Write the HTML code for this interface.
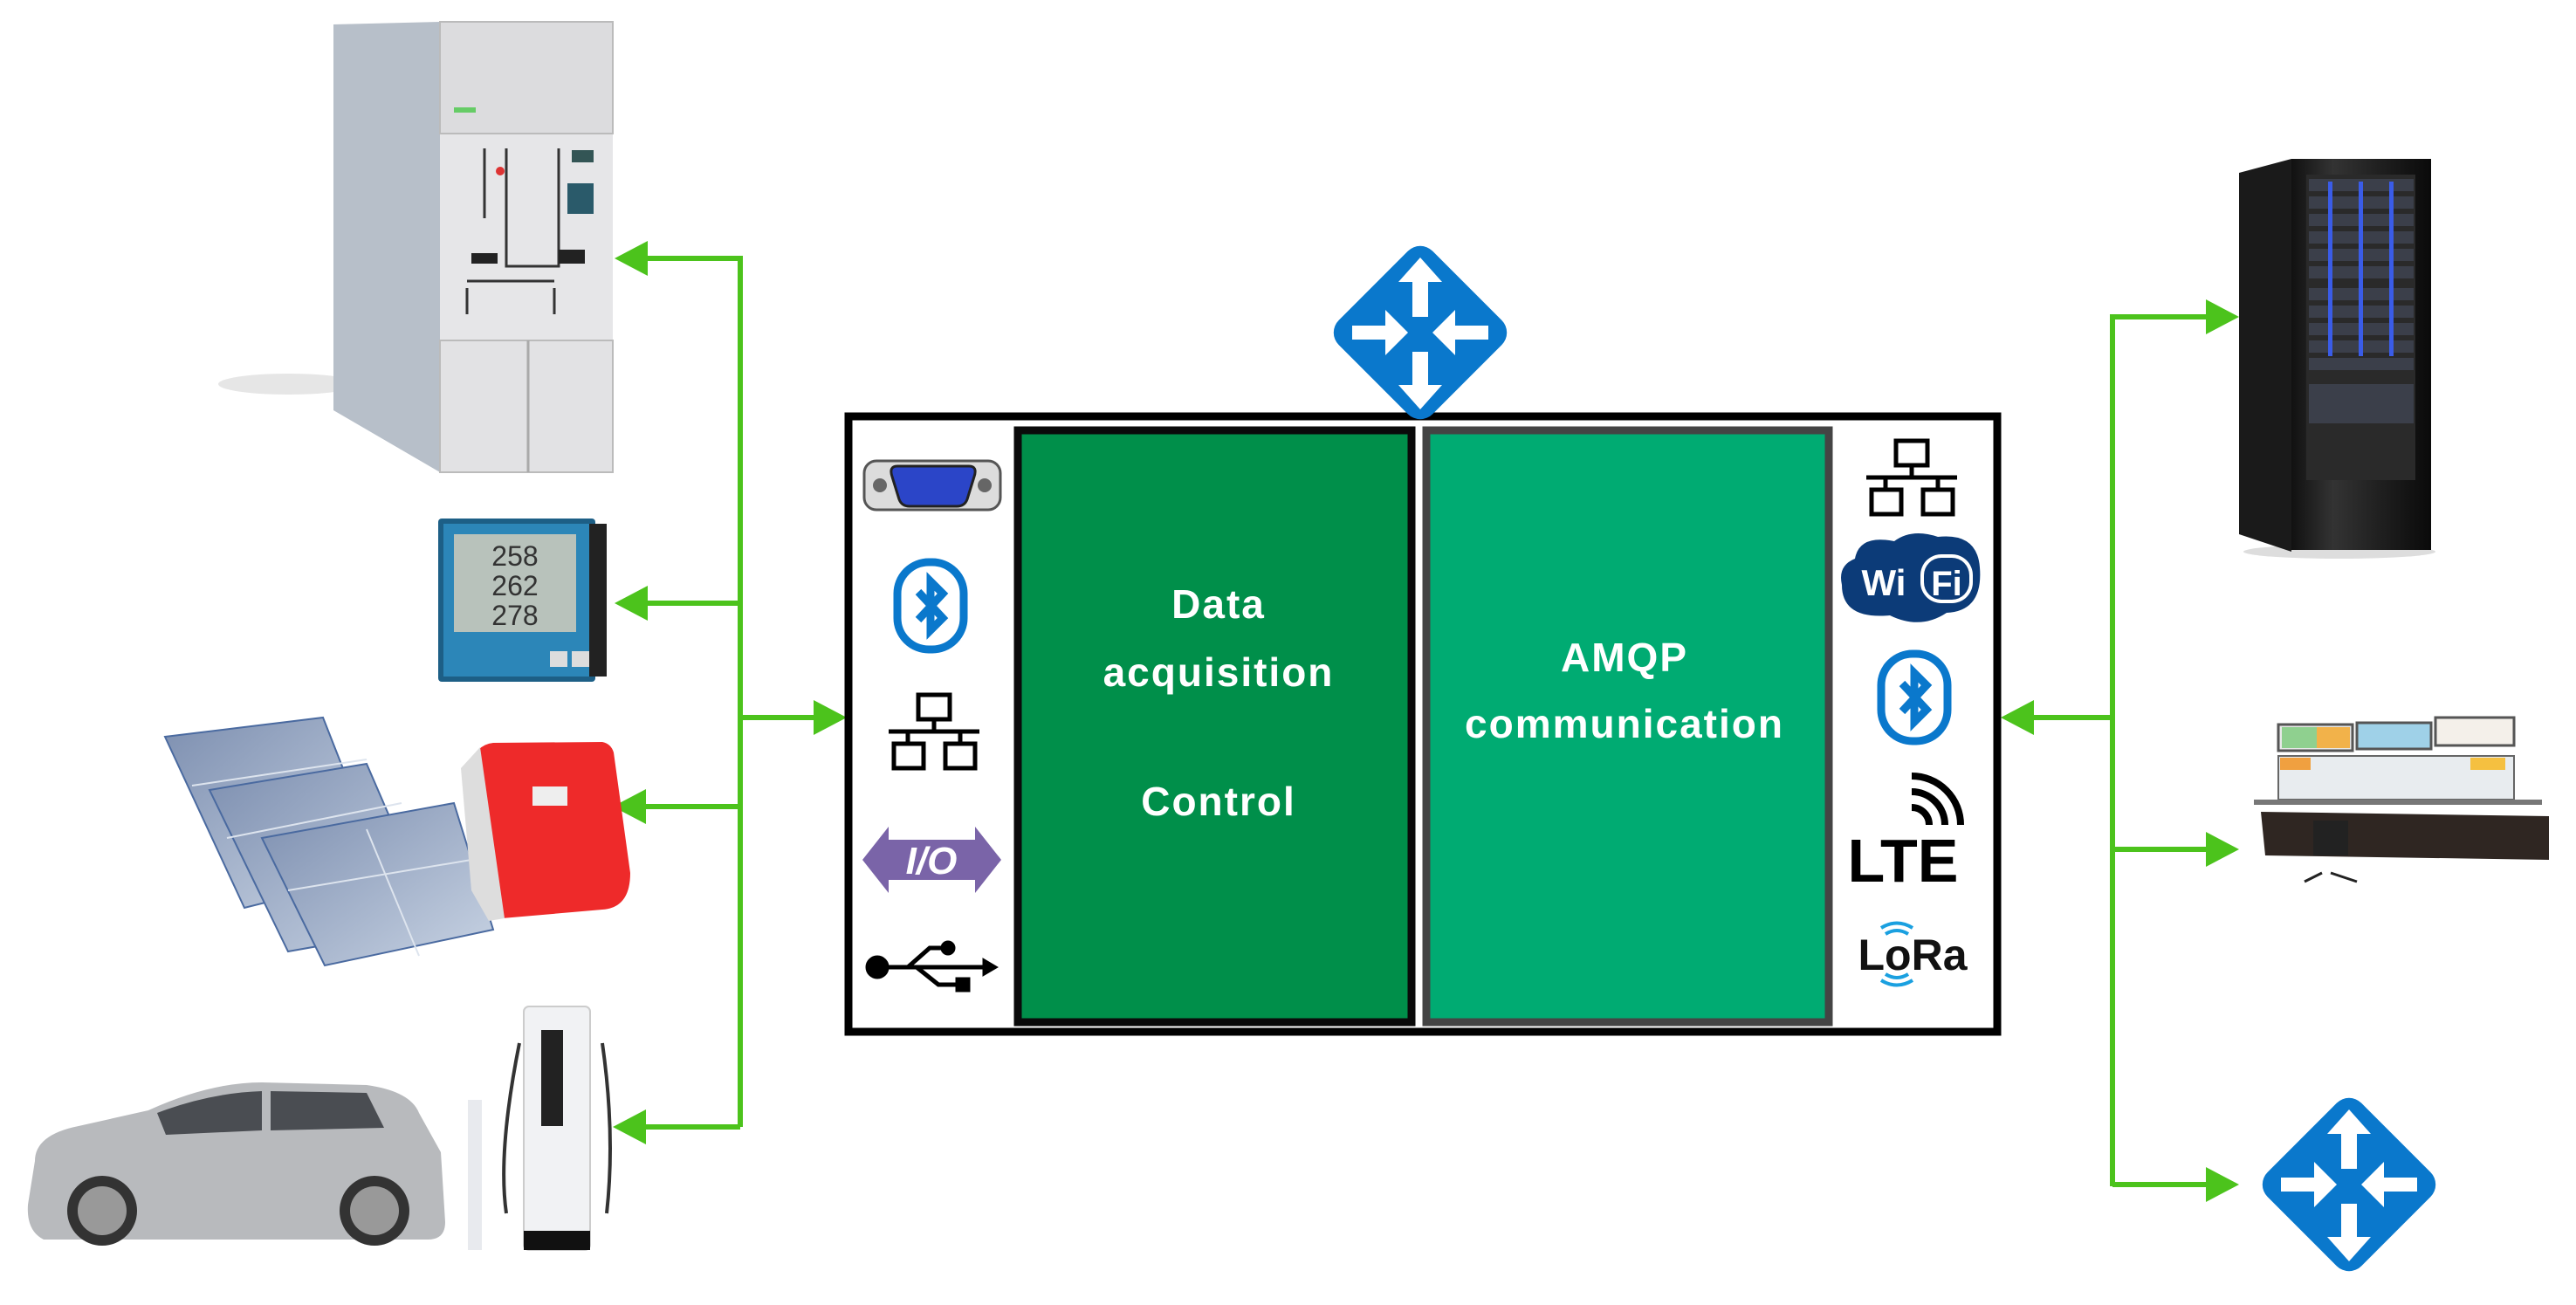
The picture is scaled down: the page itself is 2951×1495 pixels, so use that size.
<!DOCTYPE html>
<html><head><meta charset="utf-8"><style>
html,body{margin:0;padding:0;background:#fff;}
svg{display:block;}
text{font-family:"Liberation Sans",sans-serif;}
</style></head><body>
<svg width="2951" height="1495" viewBox="0 0 2951 1495" xmlns="http://www.w3.org/2000/svg">
<defs>
 <g id="router">
  <rect x="-76" y="-76" width="152" height="152" rx="20" fill="#0a78cc" transform="rotate(45)"/>
  <g fill="#fff">
   <polygon points="-9,-18 -9,-58 -25,-58 0,-86 25,-58 9,-58 9,-18"/>
   <polygon points="-9,22 -9,60 -25,60 0,88 25,60 9,60 9,22"/>
   <polygon points="-78,-8 -40,-8 -40,-26 -14,0 -40,26 -40,8 -78,8"/>
   <polygon points="78,-8 40,-8 40,-26 14,0 40,26 40,8 78,8"/>
  </g>
 </g>
 <g id="bt">
  <rect x="-38" y="-50" width="76" height="100" rx="36" fill="none" stroke="#0a78cc" stroke-width="9"/>
  <path d="M-14,-16 L14,14 L0,28 L0,-28 L14,-14 L-14,16" fill="none" stroke="#0a78cc" stroke-width="9" stroke-linejoin="miter"/>
 </g>
 <g id="net" fill="none" stroke="#000" stroke-width="5">
  <rect x="-18" y="-42" width="36" height="28"/>
  <path d="M0,-14 V0 M-52,0 H52 M-30,0 V14 M30,0 V14"/>
  <rect x="-46" y="14" width="34" height="28"/>
  <rect x="13" y="14" width="34" height="28"/>
 </g>
 <linearGradient id="rackg" x1="0" x2="1"><stop offset="0" stop-color="#111"/><stop offset=".3" stop-color="#333"/><stop offset="1" stop-color="#0a0a0a"/></linearGradient>
 <linearGradient id="solg" x1="0" x2="1" y1="0" y2="1"><stop offset="0" stop-color="#7d8fb0"/><stop offset="1" stop-color="#c9d4e4"/></linearGradient>
</defs>

<g stroke="#4cc31c" stroke-width="6" fill="none">
 <path d="M848,293 V1291"/>
 <path d="M848,296 H735 M848,691 H735 M848,924 H735 M848,1291 H735 M848,822 H935"/>
 <path d="M2420,360 V1359"/>
 <path d="M2420,363 H2530 M2420,973 H2530 M2420,1357 H2530 M2420,822 H2325"/>
</g>
<g fill="#4cc31c">
 <polygon points="704,296 742,276 742,316"/>
 <polygon points="704,691 742,671 742,711"/>
 <polygon points="702,924 740,904 740,944"/>
 <polygon points="702,1291 740,1271 740,1311"/>
 <polygon points="970,822 932,802 932,842"/>
 <polygon points="2292,822 2330,802 2330,842"/>
 <polygon points="2565,363 2527,343 2527,383"/>
 <polygon points="2565,973 2527,953 2527,993"/>
 <polygon points="2565,1357 2527,1337 2527,1377"/>
</g>

<!-- Switchgear -->
<ellipse cx="330" cy="440" rx="80" ry="12" fill="#e6e6e6"/>
<polygon points="382,28 504,25 504,541 382,470" fill="#b7bfc9"/>
<rect x="504" y="25" width="198" height="516" fill="#e6e6e8"/>
<rect x="504" y="25" width="198" height="128" fill="#dcdcde" stroke="#bbb" stroke-width="2"/>
<rect x="504" y="390" width="198" height="151" fill="#e2e2e4" stroke="#bbb" stroke-width="2"/>
<line x1="605" y1="390" x2="605" y2="541" stroke="#aaa" stroke-width="3"/>
<path d="M555,170 V250 M580,170 V305 H640 V170 M535,330 V360 M635,330 V360 M535,322 H635" stroke="#333" stroke-width="3" fill="none"/>
<rect x="650" y="210" width="30" height="35" fill="#2a5a6a"/>
<rect x="655" y="172" width="25" height="14" fill="#355"/>
<rect x="540" y="290" width="30" height="12" fill="#222"/>
<rect x="640" y="286" width="30" height="16" fill="#222"/>
<rect x="520" y="123" width="25" height="6" fill="#6c6"/>
<circle cx="573" cy="196" r="5" fill="#d33"/>

<!-- Meter -->
<rect x="502" y="594" width="180" height="187" rx="4" fill="#1d5f86"/>
<rect x="508" y="600" width="168" height="175" fill="#2c86b8"/>
<rect x="675" y="600" width="20" height="175" fill="#222"/>
<rect x="520" y="612" width="140" height="112" fill="#b8c2bb"/>
<text x="590" y="648" font-size="32" text-anchor="middle" fill="#333">258</text>
<text x="590" y="682" font-size="32" text-anchor="middle" fill="#333">262</text>
<text x="590" y="716" font-size="32" text-anchor="middle" fill="#333">278</text>
<rect x="630" y="746" width="20" height="18" fill="#ddd"/><rect x="655" y="746" width="20" height="18" fill="#ddd"/>

<!-- Solar -->
<polygon points="189,844 370,822 440,1000 280,1040" fill="url(#solg)" stroke="#4a6aa0" stroke-width="2"/>
<polygon points="240,905 420,875 500,1060 330,1090" fill="url(#solg)" stroke="#4a6aa0" stroke-width="2"/>
<polygon points="300,960 520,920 565,1065 372,1106" fill="url(#solg)" stroke="#4a6aa0" stroke-width="2"/>
<g stroke="#dde4ee" stroke-width="2">
 <line x1="220" y1="900" x2="420" y2="870"/><line x1="260" y1="960" x2="460" y2="920"/>
 <line x1="330" y1="1020" x2="540" y2="985"/><line x1="420" y1="950" x2="480" y2="1095"/>
</g>
<path d="M548,859 Q555,852 565,851 L690,850 Q700,852 703,862 L722,1000 Q722,1040 690,1042 L575,1052 Q555,1055 553,1030 Z" fill="#ee2a2a"/>
<path d="M528,880 L550,856 L578,1052 L560,1055 L540,1020 Z" fill="#ddd"/>
<rect x="610" y="901" width="40" height="22" fill="#eee"/>

<!-- Car -->
<path d="M40,1330 Q40,1300 90,1290 L170,1272 Q240,1240 300,1240 L420,1243 Q470,1250 480,1275 L505,1320 L510,1400 Q510,1420 490,1420 L50,1420 Q30,1410 32,1380 Z" fill="#b8babd"/>
<path d="M180,1275 Q240,1252 300,1250 L300,1295 L190,1300 Z M310,1250 L420,1252 L440,1292 L310,1295 Z" fill="#4a4d52"/>
<circle cx="117" cy="1387" r="40" fill="#333"/><circle cx="117" cy="1387" r="28" fill="#999"/>
<circle cx="429" cy="1387" r="40" fill="#333"/><circle cx="429" cy="1387" r="28" fill="#999"/>
<rect x="536" y="1260" width="16" height="172" fill="#e8eaee"/>
<rect x="600" y="1153" width="76" height="279" rx="6" fill="#f1f2f4" stroke="#ccc" stroke-width="2"/>
<rect x="620" y="1180" width="25" height="110" fill="#222"/>
<rect x="600" y="1410" width="76" height="22" fill="#111"/>
<path d="M595,1195 Q570,1320 580,1390 M690,1195 Q705,1300 695,1390" stroke="#333" stroke-width="4" fill="none"/>

<!-- Central box -->
<rect x="972" y="477" width="1316" height="705" fill="#fff" stroke="#000" stroke-width="9"/>
<rect x="1166" y="493" width="451" height="678" fill="#008f4a" stroke="#0a0a0a" stroke-width="9"/>
<rect x="1634" y="493" width="461" height="678" fill="#00ab72" stroke="#444" stroke-width="9"/>
<g fill="#fff" font-weight="bold" font-size="46" text-anchor="middle" letter-spacing="2">
 <text x="1396" y="708">Data</text>
 <text x="1396" y="786">acquisition</text>
 <text x="1396" y="934">Control</text>
 <text x="1861" y="769">AMQP</text>
 <text x="1861" y="845">communication</text>
</g>

<!-- left icons -->
<rect x="990" y="528" width="156" height="56" rx="14" fill="#dcdcdc" stroke="#555" stroke-width="3"/>
<circle cx="1008" cy="556" r="8" fill="#666"/><circle cx="1128" cy="556" r="8" fill="#666"/>
<path d="M1028,534 H1110 Q1120,534 1116,546 L1108,572 Q1105,580 1096,580 H1042 Q1033,580 1030,572 L1022,546 Q1018,534 1028,534 Z" fill="#2b45c8" stroke="#222" stroke-width="3"/>
<use href="#bt" x="1066" y="694"/>
<use href="#net" x="1070" y="838"/>
<polygon points="988,985 1018,947 1018,962 1117,962 1117,947 1147,985 1117,1023 1117,1008 1018,1008 1018,1023" fill="#7a64a8"/>
<text x="1067" y="1001" font-size="44" font-weight="bold" fill="#fff" text-anchor="middle" font-style="italic">I/O</text>
<g fill="#000" stroke="#000">
 <circle cx="1005" cy="1108" r="13"/>
 <path d="M1005,1108 H1130 M1040,1108 L1065,1086 H1082 M1050,1108 L1075,1128 H1098" stroke-width="5" fill="none"/>
 <circle cx="1086" cy="1086" r="8"/>
 <rect x="1095" y="1120" width="16" height="16"/>
 <polygon points="1143,1108 1126,1098 1126,1118"/>
</g>

<!-- right icons -->
<use href="#net" x="2190" y="547"/>
<path d="M2125,640 Q2130,612 2170,620 Q2190,605 2220,615 Q2265,610 2268,650 Q2272,700 2230,702 Q2200,722 2165,705 Q2110,710 2110,670 Q2105,648 2125,640 Z" fill="#0c3b78"/>
<rect x="2200" y="635" width="60" height="56" rx="24" fill="#fff"/>
<rect x="2204" y="639" width="52" height="48" rx="20" fill="#0c3b78"/>
<text x="2158" y="682" font-size="42" font-weight="bold" fill="#fff" text-anchor="middle">Wi</text>
<text x="2230" y="682" font-size="40" font-weight="bold" fill="#fff" text-anchor="middle">Fi</text>
<use href="#bt" x="2193" y="799"/>
<g fill="none" stroke="#000" stroke-width="8">
 <path d="M2190,925 A20,20 0 0 1 2210,945"/>
 <path d="M2190,907 A38,38 0 0 1 2228,945"/>
 <path d="M2190,889 A56,56 0 0 1 2246,945"/>
</g>
<text x="2180" y="1010" font-size="70" font-weight="bold" fill="#000" text-anchor="middle">LTE</text>
<text x="2191" y="1111" font-size="50" font-weight="bold" fill="#111" text-anchor="middle">LoRa</text>
<g fill="none" stroke="#1aa0e0" stroke-width="4">
 <path d="M2160,1070 Q2173,1062 2186,1070 M2155,1063 Q2173,1052 2191,1063"/>
 <path d="M2160,1116 Q2173,1124 2186,1116 M2155,1123 Q2173,1134 2191,1123"/>
</g>

<use href="#router" x="1627" y="381"/>

<!-- server rack -->
<ellipse cx="2680" cy="632" rx="110" ry="8" fill="#ddd"/>
<polygon points="2565,198 2625,182 2625,632 2565,612" fill="#1a1a1a"/>
<rect x="2625" y="182" width="160" height="448" fill="url(#rackg)"/>
<rect x="2642" y="200" width="125" height="350" fill="#2a2a2a"/>
<g fill="#3b3f4a">
 <rect x="2645" y="205" width="120" height="14"/><rect x="2645" y="225" width="120" height="14"/><rect x="2645" y="245" width="120" height="14"/>
 <rect x="2645" y="265" width="120" height="14"/><rect x="2645" y="285" width="120" height="14"/><rect x="2645" y="305" width="120" height="14"/>
 <rect x="2645" y="330" width="120" height="14"/><rect x="2645" y="350" width="120" height="14"/><rect x="2645" y="370" width="120" height="14"/>
 <rect x="2645" y="390" width="120" height="14"/><rect x="2645" y="410" width="120" height="14"/><rect x="2645" y="440" width="120" height="45"/>
</g>
<g fill="#3a5ce8">
 <rect x="2667" y="208" width="5" height="200"/><rect x="2702" y="208" width="5" height="200"/><rect x="2737" y="208" width="5" height="200"/>
</g>

<!-- control room -->
<g>
 <rect x="2610" y="830" width="85" height="30" fill="#e8e8e8" stroke="#555" stroke-width="3"/>
 <rect x="2700" y="828" width="85" height="30" fill="#9fd1e8" stroke="#555" stroke-width="3"/>
 <rect x="2790" y="822" width="90" height="32" fill="#f4f0ea" stroke="#555" stroke-width="3"/>
 <rect x="2614" y="833" width="40" height="24" fill="#8fd08f"/><rect x="2654" y="833" width="38" height="24" fill="#f2b24a"/>
 <rect x="2610" y="866" width="270" height="50" fill="#e8ecef" stroke="#666" stroke-width="2"/>
 <rect x="2612" y="868" width="35" height="14" fill="#f0a040"/><rect x="2830" y="868" width="40" height="14" fill="#f5c040"/>
 <rect x="2582" y="916" width="330" height="6" fill="#777"/>
 <polygon points="2590,930 2920,935 2920,985 2595,980" fill="#2f2622"/>
 <rect x="2650" y="940" width="40" height="40" fill="#222"/>
 <path d="M2660,1000 L2640,1010 M2670,1000 L2700,1010" stroke="#222" stroke-width="3"/>
</g>

<use href="#router" x="2691" y="1357"/>
</svg>
</body></html>
